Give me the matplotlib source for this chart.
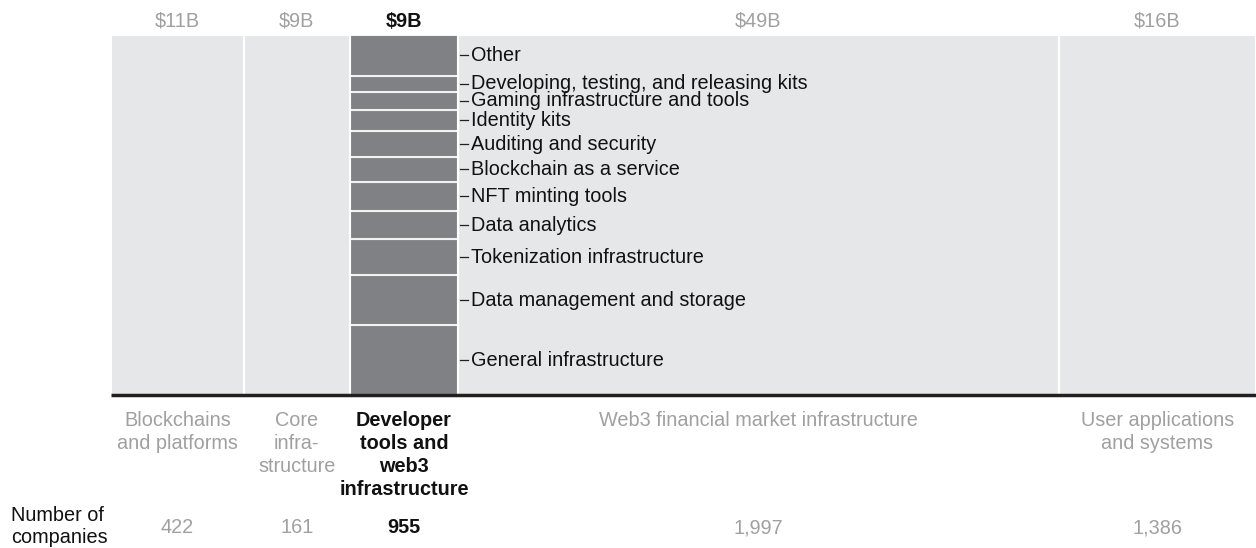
import numpy as np
import matplotlib.pyplot as plt
from matplotlib.transforms import blended_transform_factory

plt.rcParams['font.family'] = ['Liberation Sans', 'DejaVu Sans']

# column data: value ($B) sets the column width
categories = ['Blockchains\nand platforms', 'Core\ninfra-\nstructure',
              'Developer\ntools and\nweb3\ninfrastructure',
              'Web3 financial market infrastructure',
              'User applications\nand systems']
value_labels = ['$11B', '$9B', '$9B', '$49B', '$16B']
values = [10.9, 8.7, 8.9, 49.3, 16.2]
companies = ['422', '161', '955', '1,997', '1,386']
highlight = 2

# breakdown of the highlighted column (share of column, %), bottom to top
segments = ['General infrastructure', 'Data management and storage',
            'Tokenization infrastructure', 'Data analytics', 'NFT minting tools',
            'Blockchain as a service', 'Auditing and security', 'Identity kits',
            'Gaming infrastructure and tools',
            'Developing, testing, and releasing kits', 'Other']
shares = [19.4, 13.8, 10.0, 7.9, 8.1, 6.9, 7.2, 6.0, 4.9, 4.5, 11.3]

bg = '#e6e7e8'
dark = '#808184'
grey_txt = '#a0a0a0'
fs = 14.3

fig = plt.figure(figsize=(12.56, 5.48), dpi=100)
W, H = 1256, 548
ax = fig.add_axes([111 / W, (H - 395) / H, (W - 111) / W, 360 / H])

lefts = np.concatenate([[0], np.cumsum(values)[:-1]])
centers = lefts + np.array(values) / 2
total = sum(values)

ax.bar(lefts, [100] * len(values), width=values, align='edge', color=bg,
       edgecolor='white', linewidth=1.5)

# stacked segments in highlighted column
bottoms = np.concatenate([[0], np.cumsum(shares)[:-1]])
ax.bar([lefts[highlight]] * len(shares), shares, bottom=bottoms,
       width=values[highlight], align='edge', color=dark, edgecolor='#f2f2f2',
       linewidth=1.5)
for x in lefts[1:]:
    ax.axvline(x, color='white', lw=1.5)

ax.set_xlim(0, total)
ax.set_ylim(0, 100)
ax.axis('off')
ax.plot([0, total], [0, 0], color='#231f20', lw=2.5, clip_on=False,
        solid_capstyle='butt')

# segment labels with small tick
xr = lefts[highlight] + values[highlight]
px = total / (W - 111)  # data units per pixel
for name, b, s in zip(segments, bottoms, shares):
    yc = b + s / 2
    ax.plot([xr + 2 * px, xr + 10 * px], [yc, yc], color='#231f20', lw=0.9,
            clip_on=False)
    ax.text(xr + 13 * px, yc, name, fontsize=fs, va='center', ha='left',
            color='#111111')

# top and bottom labels
trans = blended_transform_factory(ax.transData, fig.transFigure)
for i, (cx, cat, vl, nc) in enumerate(zip(centers, categories, value_labels,
                                          companies)):
    hl = i == highlight
    col = '#111111' if hl else grey_txt
    fw = 'bold' if hl else 'normal'
    ax.text(cx, 1 - 27 / H, vl, transform=trans, ha='center', va='baseline',
            fontsize=fs, color=col, fontweight=fw)
    for k, line in enumerate(cat.split('\n')):
        ax.text(cx, 1 - (426 + 23 * k) / H, line, transform=trans,
                ha='center', va='baseline', fontsize=fs, color=col,
                fontweight=fw)
    ax.text(cx, 1 - 533 / H, nc, transform=trans, ha='center', va='baseline',
            fontsize=fs, color=col, fontweight=fw)

fig.text(11 / W, 1 - 521 / H, 'Number of', ha='left', va='baseline',
         fontsize=fs, color='#111111')
fig.text(11 / W, 1 - 543 / H, 'companies', ha='left', va='baseline',
         fontsize=fs, color='#111111')

fig.savefig('out.png', dpi=100, facecolor='white')
